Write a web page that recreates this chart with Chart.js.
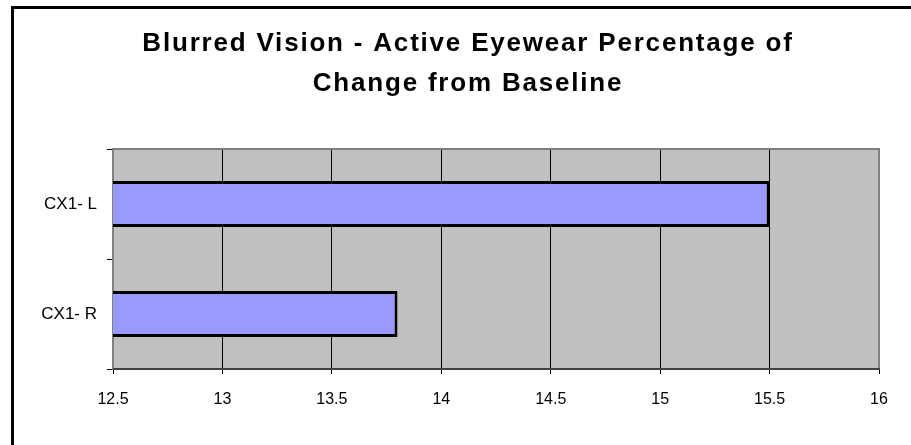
<!DOCTYPE html>
<html>
<head>
<meta charset="utf-8">
<script src="https://cdn.jsdelivr.net/npm/chart.js@4"></script>
<style>
  html, body { margin: 0; padding: 0; background: #fff; }
  #wrap { width: 911px; height: 445px; }
</style>
</head>
<body>
<div id="wrap"><canvas id="c" width="911" height="445"></canvas></div>
<script>
// Chart content
const titleLines = ['Blurred Vision - Active Eyewear Percentage of', 'Change from Baseline'];
const categories = ['CX1- L', 'CX1- R'];
const changeValues = [15.5, 13.8];
const axisMin = 12.5;
const axisMax = 16;
const axisStep = 0.5;

const FONT = '"Liberation Sans", Arial, sans-serif';

// Grey plot background, plot frame, outer frame and two-line title
const decor = {
  id: 'decor',
  beforeDraw(chart) {
    const { ctx, chartArea: a } = chart;
    ctx.save();
    ctx.fillStyle = '#ffffff';
    ctx.fillRect(0, 0, chart.width, chart.height);
    ctx.fillStyle = '#C0C0C0';
    ctx.fillRect(a.left, a.top, a.right - a.left, a.bottom - a.top);
    ctx.restore();
  },
  beforeDatasetsDraw(chart) {
    const { ctx, chartArea: a } = chart;
    ctx.save();
    ctx.strokeStyle = '#808080';
    ctx.lineWidth = 2;
    ctx.strokeRect(a.left, a.top, a.right - a.left, a.bottom - a.top);
    ctx.strokeStyle = '#404040';
    ctx.beginPath();
    ctx.moveTo(a.left, a.bottom);
    ctx.lineTo(a.right + 1, a.bottom);
    ctx.stroke();
    ctx.restore();
  },
  afterDraw(chart) {
    const { ctx } = chart;
    ctx.save();
    // outer frame (right and bottom edges fall outside the canvas)
    ctx.strokeStyle = '#000000';
    ctx.lineWidth = 3;
    ctx.strokeRect(12.5, 7.5, 1000, 1000);
    // title
    ctx.fillStyle = '#000000';
    ctx.font = 'bold 26px ' + FONT;
    ctx.textAlign = 'center';
    ctx.textBaseline = 'alphabetic';
    if ('letterSpacing' in ctx) ctx.letterSpacing = '1.8px';
    ctx.fillText(titleLines[0], 468, 51);
    ctx.fillText(titleLines[1], 468, 91);
    ctx.restore();
  }
};

new Chart(document.getElementById('c'), {
  type: 'bar',
  data: {
    labels: categories,
    datasets: [{
      data: changeValues,
      backgroundColor: '#9999FF',
      borderColor: '#000000',
      borderWidth: 3,
      borderSkipped: false,
      barPercentage: 0.42,
      categoryPercentage: 1.0
    }]
  },
  options: {
    indexAxis: 'y',
    responsive: false,
    animation: false,
    devicePixelRatio: 1,
    layout: { padding: { left: 0, right: 32, top: 149, bottom: 36 } },
    plugins: {
      legend: { display: false },
      title: { display: false },
      tooltip: { enabled: false }
    },
    scales: {
      x: {
        type: 'linear',
        min: axisMin,
        max: axisMax,
        afterFit(scale) { scale.height = 40; },
        ticks: {
          stepSize: axisStep,
          color: '#000000',
          padding: 16,
          font: { family: FONT, size: 16 },
          callback: v => String(v)
        },
        grid: {
          color: '#000000',
          lineWidth: 1,
          drawTicks: true,
          tickLength: 5,
          tickColor: '#000000'
        },
        border: { display: false }
      },
      y: {
        afterFit(scale) { scale.width = 113; },
        ticks: {
          color: '#000000',
          padding: 10,
          font: { family: FONT, size: 17 }
        },
        grid: {
          offset: true,
          drawOnChartArea: false,
          drawTicks: true,
          tickLength: 6,
          tickColor: '#000000'
        },
        border: { display: false }
      }
    }
  },
  plugins: [decor]
});
</script>
</body>
</html>
